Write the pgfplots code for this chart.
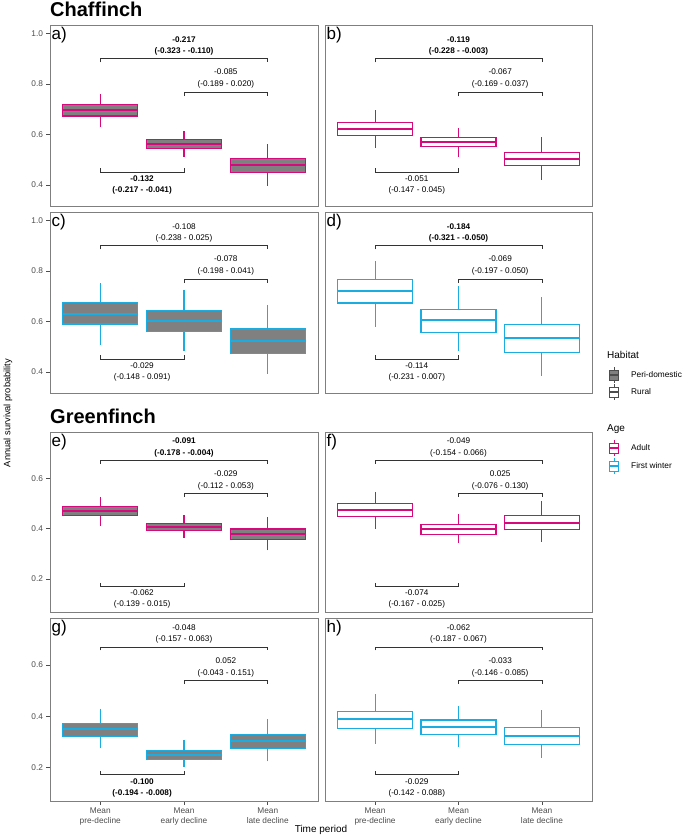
\documentclass[border=0pt]{standalone}
\usepackage{pgfplots}
\pgfplotsset{compat=1.18}
\usepgfplotslibrary{statistics}
\usepackage{fontspec}
\setmainfont{Liberation Sans}
\definecolor{mag}{RGB}{214,10,124}
\definecolor{cya}{RGB}{27,172,226}
\definecolor{grayfill}{RGB}{128,128,128}
\definecolor{ticklab}{RGB}{77,77,77}
\definecolor{frame}{RGB}{127,127,127}
\definecolor{brk}{RGB}{51,51,51}
\pgfplotsset{
  panel/.style={scale only axis, anchor=north west, clip=false,
    xmin=0.4, xmax=3.6,
    axis line style={draw=frame, line width=0.9pt},
    tick style={draw=ticklab, line width=0.6pt},
    tick align=outside, major tick length=3.5pt,
    xtick pos=bottom, ytick pos=left,
    /pgf/number format/assume math mode=true,
    yticklabel style={font=\fontsize{8.3}{9}\selectfont, text=ticklab},
    xticklabel style={font=\fontsize{8.3}{9.5}\selectfont, text=ticklab, align=center},
    boxplot/draw direction=y,
    boxplot/box extend=0.9, boxplot/whisker extend=0,
  },
  chaf/.style={ymin=0.317, ymax=1.033},
  gree/.style={ymin=0.068, ymax=0.784},
}
% colour, fill, position, lower whisker, lower quartile, median, upper quartile, upper whisker
\newcommand{\bx}[8]{\addplot[draw=#1, fill=#2, line width=1.1pt, solid,
  boxplot/every box/.style={draw=#1, fill=#2, line width=1.1pt},
  boxplot/every whisker/.style={draw=#1, line width=1.1pt},
  boxplot/every median/.style={draw=#1, line width=2pt},
  boxplot prepared={draw position=#3, lower whisker=#4, lower quartile=#5, median=#6, upper quartile=#7, upper whisker=#8}] coordinates {};}
\newcommand{\annfont}{\fontsize{8.2}{9}\selectfont}
\newcommand{\annC}[6]{%
  \draw[brk, line width=0.6pt] (axis cs:1,0.885) -- (axis cs:1,0.900) -- (axis cs:3,0.900) -- (axis cs:3,0.885);
  \node[font=\annfont] at (axis cs:2,0.976) {#1};
  \node[font=\annfont] at (axis cs:2,0.927) {#2};
  \draw[brk, line width=0.6pt] (axis cs:2,0.752) -- (axis cs:2,0.767) -- (axis cs:3,0.767) -- (axis cs:3,0.752);
  \node[font=\annfont] at (axis cs:2.5,0.847) {#3};
  \node[font=\annfont] at (axis cs:2.5,0.797) {#4};
  \draw[brk, line width=0.6pt] (axis cs:1,0.467) -- (axis cs:1,0.452) -- (axis cs:2,0.452) -- (axis cs:2,0.467);
  \node[font=\annfont] at (axis cs:1.5,0.425) {#5};
  \node[font=\annfont] at (axis cs:1.5,0.377) {#6};
}
\newcommand{\annG}[6]{%
  \draw[brk, line width=0.6pt] (axis cs:1,0.657) -- (axis cs:1,0.670) -- (axis cs:3,0.670) -- (axis cs:3,0.657);
  \node[font=\annfont] at (axis cs:2,0.748) {#1};
  \node[font=\annfont] at (axis cs:2,0.699) {#2};
  \draw[brk, line width=0.6pt] (axis cs:2,0.527) -- (axis cs:2,0.541) -- (axis cs:3,0.541) -- (axis cs:3,0.527);
  \node[font=\annfont] at (axis cs:2.5,0.617) {#3};
  \node[font=\annfont] at (axis cs:2.5,0.567) {#4};
  \draw[brk, line width=0.6pt] (axis cs:1,0.184) -- (axis cs:1,0.171) -- (axis cs:2,0.171) -- (axis cs:2,0.184);
  \node[font=\annfont] at (axis cs:1.5,0.145) {#5};
  \node[font=\annfont] at (axis cs:1.5,0.099) {#6};
}
\newcommand{\tag}[1]{\node[anchor=north west, inner sep=0pt, font=\fontsize{17}{17}\selectfont] at ([xshift=1.5pt,yshift=-2pt]rel axis cs:0,1) {#1};}
\begin{document}
\begin{tikzpicture}[x=1pt,y=1pt]
\useasboundingbox (0pt,0pt) rectangle (685pt,-836pt);
% Titles
\node[anchor=base west, inner sep=0pt, font=\fontsize{20}{20}\selectfont\bfseries] at (50pt,-16pt) {Chaffinch};
\node[anchor=base west, inner sep=0pt, font=\fontsize{20}{20}\selectfont\bfseries] at (50pt,-423pt) {Greenfinch};
% a)
\begin{axis}[panel, chaf, at={(50pt,-25pt)}, width=268pt, height=181pt, xtick=\empty, ytick={0.4,0.6,0.8,1.0}, yticklabels={0.4,0.6,0.8,1.0}]
\bx{mag}{grayfill}{1}{0.628}{0.673}{0.696}{0.719}{0.759}
\bx{mag}{grayfill}{2}{0.512}{0.545}{0.562}{0.581}{0.615}
\bx{mag}{grayfill}{3}{0.397}{0.451}{0.479}{0.506}{0.562}
\annC{\textbf{-0.217}}{\textbf{(-0.323 - -0.110)}}{-0.085}{(-0.189 - 0.020)}{\textbf{-0.132}}{\textbf{(-0.217 - -0.041)}}
\tag{a)}
\end{axis}
% b)
\begin{axis}[panel, chaf, at={(325pt,-25pt)}, width=267pt, height=181pt, xtick=\empty, ytick=\empty]
\bx{mag}{white}{1}{0.545}{0.595}{0.622}{0.648}{0.697}
\bx{mag}{white}{2}{0.512}{0.551}{0.569}{0.589}{0.625}
\bx{mag}{white}{3}{0.420}{0.476}{0.503}{0.530}{0.589}
\annC{\textbf{-0.119}}{\textbf{(-0.228 - -0.003)}}{-0.067}{(-0.169 - 0.037)}{-0.051}{(-0.147 - 0.045)}
\tag{b)}
\end{axis}
% c)
\begin{axis}[panel, chaf, at={(50pt,-212pt)}, width=268pt, height=181pt, xtick=\empty, ytick={0.4,0.6,0.8,1.0}, yticklabels={0.4,0.6,0.8,1.0}]
\bx{cya}{grayfill}{1}{0.508}{0.590}{0.631}{0.674}{0.752}
\bx{cya}{grayfill}{2}{0.482}{0.560}{0.603}{0.644}{0.726}
\bx{cya}{grayfill}{3}{0.393}{0.475}{0.524}{0.570}{0.666}
\annC{-0.108}{(-0.238 - 0.025)}{-0.078}{(-0.198 - 0.041)}{-0.029}{(-0.148 - 0.091)}
\tag{c)}
\end{axis}
% d)
\begin{axis}[panel, chaf, at={(325pt,-212pt)}, width=267pt, height=181pt, xtick=\empty, ytick=\empty]
\bx{cya}{white}{1}{0.578}{0.673}{0.719}{0.765}{0.841}
\bx{cya}{white}{2}{0.482}{0.558}{0.604}{0.648}{0.739}
\bx{cya}{white}{3}{0.385}{0.479}{0.535}{0.587}{0.697}
\annC{\textbf{-0.184}}{\textbf{(-0.321 - -0.050)}}{-0.069}{(-0.197 - 0.050)}{-0.114}{(-0.231 - 0.007)}
\tag{d)}
\end{axis}
% e)
\begin{axis}[panel, gree, at={(50pt,-432pt)}, width=268pt, height=180pt, xtick=\empty, ytick={0.2,0.4,0.6}, yticklabels={0.2,0.4,0.6}]
\bx{mag}{grayfill}{1}{0.411}{0.451}{0.470}{0.488}{0.527}
\bx{mag}{grayfill}{2}{0.362}{0.391}{0.406}{0.420}{0.452}
\bx{mag}{grayfill}{3}{0.313}{0.356}{0.378}{0.398}{0.444}
\annG{\textbf{-0.091}}{\textbf{(-0.178 - -0.004)}}{-0.029}{(-0.112 - 0.053)}{-0.062}{(-0.139 - 0.015)}
\tag{e)}
\end{axis}
% f)
\begin{axis}[panel, gree, at={(325pt,-432pt)}, width=267pt, height=180pt, xtick=\empty, ytick=\empty]
\bx{mag}{white}{1}{0.398}{0.448}{0.472}{0.498}{0.545}
\bx{mag}{white}{2}{0.343}{0.378}{0.399}{0.416}{0.457}
\bx{mag}{white}{3}{0.345}{0.395}{0.424}{0.451}{0.510}
\annG{-0.049}{(-0.154 - 0.066)}{0.025}{(-0.076 - 0.130)}{-0.074}{(-0.167 - 0.025)}
\tag{f)}
\end{axis}
% g)
\begin{axis}[panel, gree, at={(50pt,-618pt)}, width=268pt, height=183pt, xtick={1,2,3}, xticklabels={{Mean\\pre-decline},{Mean\\early decline},{Mean\\late decline}}, ytick={0.2,0.4,0.6}, yticklabels={0.2,0.4,0.6}]
\bx{cya}{grayfill}{1}{0.274}{0.322}{0.351}{0.373}{0.429}
\bx{cya}{grayfill}{2}{0.200}{0.229}{0.248}{0.265}{0.305}
\bx{cya}{grayfill}{3}{0.223}{0.272}{0.302}{0.328}{0.387}
\annG{-0.048}{(-0.157 - 0.063)}{0.052}{(-0.043 - 0.151)}{\textbf{-0.100}}{\textbf{(-0.194 - -0.008)}}
\tag{g)}
\end{axis}
% h)
\begin{axis}[panel, gree, at={(325pt,-618pt)}, width=267pt, height=183pt, xtick={1,2,3}, xticklabels={{Mean\\pre-decline},{Mean\\early decline},{Mean\\late decline}}, ytick=\empty]
\bx{cya}{white}{1}{0.292}{0.352}{0.387}{0.418}{0.486}
\bx{cya}{white}{2}{0.281}{0.329}{0.357}{0.385}{0.440}
\bx{cya}{white}{3}{0.237}{0.290}{0.324}{0.355}{0.424}
\annG{-0.062}{(-0.187 - 0.067)}{-0.033}{(-0.146 - 0.085)}{-0.029}{(-0.142 - 0.088)}
\tag{h)}
\end{axis}
% axis titles
\node[rotate=90, font=\fontsize{9.3}{9}\selectfont] at (8pt,-413pt) {Annual survival probability};
\node[font=\fontsize{10}{10}\selectfont] at (321pt,-830pt) {Time period};
% legend
\node[anchor=west, inner sep=0pt, font=\fontsize{10}{10}\selectfont] at (607pt,-355pt) {Habitat};
\foreach \yy/\ff/\dd/\lab in {-375/grayfill/ticklab/Peri-domestic, -392/white/ticklab/Rural, -448/white/mag/Adult, -466/white/cya/First winter}{
  \draw[\dd, line width=0.7pt] (614pt,\yy pt+8pt) -- (614pt,\yy pt-8pt);
  \draw[\dd, fill=\ff, line width=0.8pt] (609.5pt,\yy pt-5pt) rectangle (618.5pt,\yy pt+5pt);
  \draw[\dd, line width=1.2pt] (609.5pt,\yy pt) -- (618.5pt,\yy pt);
  \node[anchor=west, inner sep=0pt, font=\fontsize{8.3}{9}\selectfont] at (631pt,\yy pt) {\lab};
}
\node[anchor=west, inner sep=0pt, font=\fontsize{10}{10}\selectfont] at (607pt,-429pt) {Age};
\end{tikzpicture}
\end{document}
